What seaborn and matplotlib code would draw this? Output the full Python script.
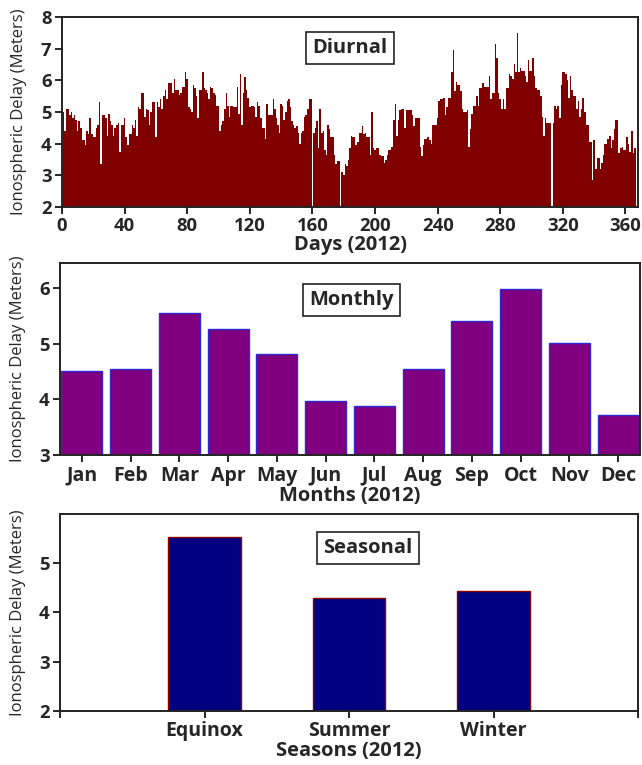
import numpy as np
import pandas as pd
import matplotlib
matplotlib.use("Agg")
import matplotlib.pyplot as plt
import seaborn as sns

# ---------------- data ----------------
diurnal_delay = [
    5.0, 4.4, 5.1, 5.1, 4.9, 5.0, 4.8, 4.9, 4.75, 4.4,
    4.7, 4.5, 4.1, 4.1, 3.95, 4.4, 4.3, 4.8, 4.3, 4.2,
    4.2, 4.5, 4.6, 5.3, 3.35, 4.9, 4.9, 4.8, 4.25, 4.95,
    4.7, 4.6, 4.25, 4.5, 4.6, 4.65, 3.75, 4.6, 4.6, 4.8,
    4.2, 3.95, 4.3, 4.3, 4.6, 4.5, 4.75, 4.25, 5.15, 5.1,
    5.6, 5.6, 4.85, 5.1, 5.05, 4.6, 5.0, 5.3, 5.3, 4.2,
    5.3, 5.15, 5.4, 5.1, 5.5, 5.7, 5.4, 5.9, 5.9, 5.9,
    5.6, 6.05, 5.7, 5.7, 5.55, 5.6, 5.8, 5.8, 6.25, 6.05,
    5.15, 5.1, 5.0, 5.85, 5.75, 5.5, 4.8, 5.7, 5.7, 6.25,
    5.75, 5.7, 5.6, 5.4, 5.8, 5.75, 5.6, 5.55, 5.2, 5.2,
    4.4, 4.6, 4.7, 5.1, 5.6, 5.2, 4.85, 5.2, 5.2, 5.15,
    5.15, 5.8, 4.95, 6.2, 4.6, 5.6, 6.1, 5.7, 5.45, 5.15,
    5.2, 5.2, 5.15, 4.85, 5.3, 5.2, 4.8, 4.5, 4.5, 4.15,
    5.25, 4.9, 4.9, 4.9, 5.4, 5.1, 4.8, 4.6, 4.35, 5.25,
    5.2, 4.75, 5.0, 5.35, 5.4, 5.15, 4.7, 4.6, 4.5, 4.55,
    4.35, 4.0, 4.35, 4.4, 4.85, 4.9, 5.1, 5.4, 5.4, 0.0,
    4.35, 4.5, 4.7, 3.85, 5.1, 4.35, 4.4, 3.8, 3.65, 4.6,
    4.45, 4.2, 4.2, 3.65, 3.35, 3.45, 3.45, 0.0, 3.1, 3.0,
    3.35, 3.3, 3.5, 3.85, 4.25, 4.2, 4.2, 3.95, 4.05, 4.35,
    4.35, 4.55, 4.3, 4.35, 4.2, 4.2, 3.65, 5.0, 3.85, 3.8,
    3.85, 3.85, 3.65, 3.6, 3.6, 3.4, 3.5, 3.65, 3.8, 3.8,
    3.9, 4.75, 5.25, 4.25, 4.75, 5.05, 5.1, 5.1, 4.5, 5.05,
    5.05, 5.05, 5.05, 4.9, 4.55, 4.8, 4.8, 4.8, 3.9, 3.6,
    3.95, 4.15, 4.15, 4.2, 4.1, 4.0, 4.6, 4.6, 4.6, 4.8,
    5.35, 5.4, 5.4, 5.45, 4.9, 5.15, 5.45, 5.45, 6.25, 6.95,
    5.65, 5.95, 5.85, 5.85, 5.65, 5.1, 5.0, 5.0, 5.05, 3.9,
    4.45, 4.95, 5.2, 5.2, 5.5, 5.2, 5.75, 5.75, 5.9, 5.8,
    5.8, 5.8, 6.15, 5.4, 5.6, 5.6, 7.15, 6.7, 5.6, 5.4,
    5.1, 5.4, 5.1, 5.75, 5.75, 6.2, 6.15, 6.05, 6.5, 6.25,
    7.5, 6.25, 6.4, 6.3, 6.3, 6.15, 5.95, 6.65, 6.3, 6.3,
    6.7, 6.15, 5.75, 5.7, 5.7, 5.5, 4.85, 4.25, 4.8, 4.65,
    4.65, 4.65, 0.0, 4.65, 5.2, 5.1, 5.2, 4.8, 5.85, 6.25,
    6.25, 6.2, 6.0, 5.45, 6.15, 5.7, 5.5, 5.5, 5.1, 5.35,
    4.85, 5.1, 5.45, 5.0, 4.6, 4.6, 4.05, 4.05, 2.85, 4.1,
    3.2, 3.55, 3.55, 3.2, 3.4, 3.65, 4.0, 4.0, 4.15, 4.25,
    3.85, 4.1, 4.45, 4.75, 4.75, 3.7, 3.85, 3.9, 3.8, 3.8,
    4.2, 4.0, 3.75, 4.4, 3.7, 3.85,
]
days = np.arange(1, len(diurnal_delay) + 1)
day_ticks = [0, 40, 80, 120, 160, 200, 240, 280, 320, 360]

months = ["Jan", "Feb", "Mar", "Apr", "May", "Jun",
          "Jul", "Aug", "Sep", "Oct", "Nov", "Dec"]
monthly_delay = [4.52, 4.54, 5.55, 5.27, 4.81, 3.97,
                 3.88, 4.54, 5.40, 5.98, 5.02, 3.72]

seasons = ["Equinox", "Summer", "Winter"]
seasonal_delay = [5.53, 4.29, 4.44]

# ---------------- style ----------------
sns.set_theme(style="ticks")
plt.rcParams["font.family"] = ["Open Sans", "DejaVu Sans"]
plt.rcParams["axes.linewidth"] = 1.4
plt.rcParams["axes.edgecolor"] = "#222222"

fig = plt.figure(figsize=(6.42, 7.65), dpi=100)
ax1 = fig.add_axes([0.0966, 0.7294, 0.8972, 0.2484])
ax2 = fig.add_axes([0.0935, 0.4050, 0.9035, 0.2512])
ax3 = fig.add_axes([0.0935, 0.0706, 0.9005, 0.2575])

tick_kw = dict(labelsize=13.3, width=1.4, length=5, direction="out", pad=2.5)
cat_fs = 14
ylab_kw = dict(fontsize=12)
xlab_kw = dict(fontsize=14.5, fontweight="bold", labelpad=0)
box_kw = dict(boxstyle="square,pad=0.3", fc="white", ec="#222222", lw=1.2)
title_fs = 14.5

# ---- Diurnal ----
df_d = pd.DataFrame({"day": days, "delay": diurnal_delay})
sns.barplot(data=df_d, x="day", y="delay", native_scale=True, width=1.0,
            color="#800000", saturation=1, linewidth=0, errorbar=None, ax=ax1)
ax1.set_xlim(0, 368)
ax1.set_ylim(2, 8)
ax1.set_xticks(day_ticks)
ax1.set_xticklabels([str(t) for t in day_ticks], fontweight="bold")
ax1.set_yticks(range(2, 9))
ax1.set_yticklabels([str(t) for t in range(2, 9)], fontweight="bold")
ax1.tick_params(**tick_kw)
ax1.set_xlabel("Days (2012)", **xlab_kw)
ax1.set_ylabel("Ionospheric Delay (Meters)", **ylab_kw)
ax1.yaxis.set_label_coords(-0.061, 0.5)
ax1.text(0.50, 0.837, "Diurnal", transform=ax1.transAxes, ha="center",
         va="center", fontsize=title_fs, fontweight="bold", bbox=box_kw, zorder=5)

# ---- Monthly ----
df_m = pd.DataFrame({"month": months, "delay": monthly_delay})
sns.barplot(data=df_m, x="month", y="delay", color="#800080", saturation=1,
            edgecolor="#2a2ad0", linewidth=1.0, width=0.84, errorbar=None, ax=ax2)
ax2.set_xlim(-0.45, 11.45)
ax2.set_ylim(3, 6.45)
ax2.set_yticks([3, 4, 5, 6])
ax2.set_yticklabels(["3", "4", "5", "6"], fontweight="bold")
ax2.set_xticks(range(len(months)))
ax2.set_xticklabels(months, fontweight="bold", fontsize=cat_fs)
ax2.tick_params(**tick_kw)
ax2.tick_params(axis="x", labelsize=cat_fs)
ax2.set_xlabel("Months (2012)", **xlab_kw)
ax2.set_ylabel("Ionospheric Delay (Meters)", **ylab_kw)
ax2.yaxis.set_label_coords(-0.058, 0.5)
ax2.text(0.502, 0.807, "Monthly", transform=ax2.transAxes, ha="center",
         va="center", fontsize=title_fs, fontweight="bold", bbox=box_kw, zorder=5)

# ---- Seasonal ----
df_s = pd.DataFrame({"season": seasons, "delay": seasonal_delay})
sns.barplot(data=df_s, x="season", y="delay", color="#000080", saturation=1,
            edgecolor="#8b0000", linewidth=1.0, width=0.5, errorbar=None, ax=ax3)
ax3.set_xlim(-1, 3)
ax3.set_ylim(2, 6)
ax3.set_yticks([2, 3, 4, 5])
ax3.set_yticklabels(["2", "3", "4", "5"], fontweight="bold")
ax3.set_xticks([-1, 0, 1, 2, 3])
ax3.set_xticklabels([""] + seasons + [""], fontweight="bold", fontsize=cat_fs)
ax3.tick_params(**tick_kw)
ax3.tick_params(axis="x", labelsize=cat_fs)
ax3.set_xlabel("Seasons (2012)", **xlab_kw)
ax3.set_ylabel("Ionospheric Delay (Meters)", **ylab_kw)
ax3.yaxis.set_label_coords(-0.058, 0.5)
ax3.text(0.533, 0.827, "Seasonal", transform=ax3.transAxes, ha="center",
         va="center", fontsize=title_fs, fontweight="bold", bbox=box_kw, zorder=5)

for ax in (ax1, ax2, ax3):
    for s in ax.spines.values():
        s.set_visible(True)

fig.savefig("out.png", dpi=100)
